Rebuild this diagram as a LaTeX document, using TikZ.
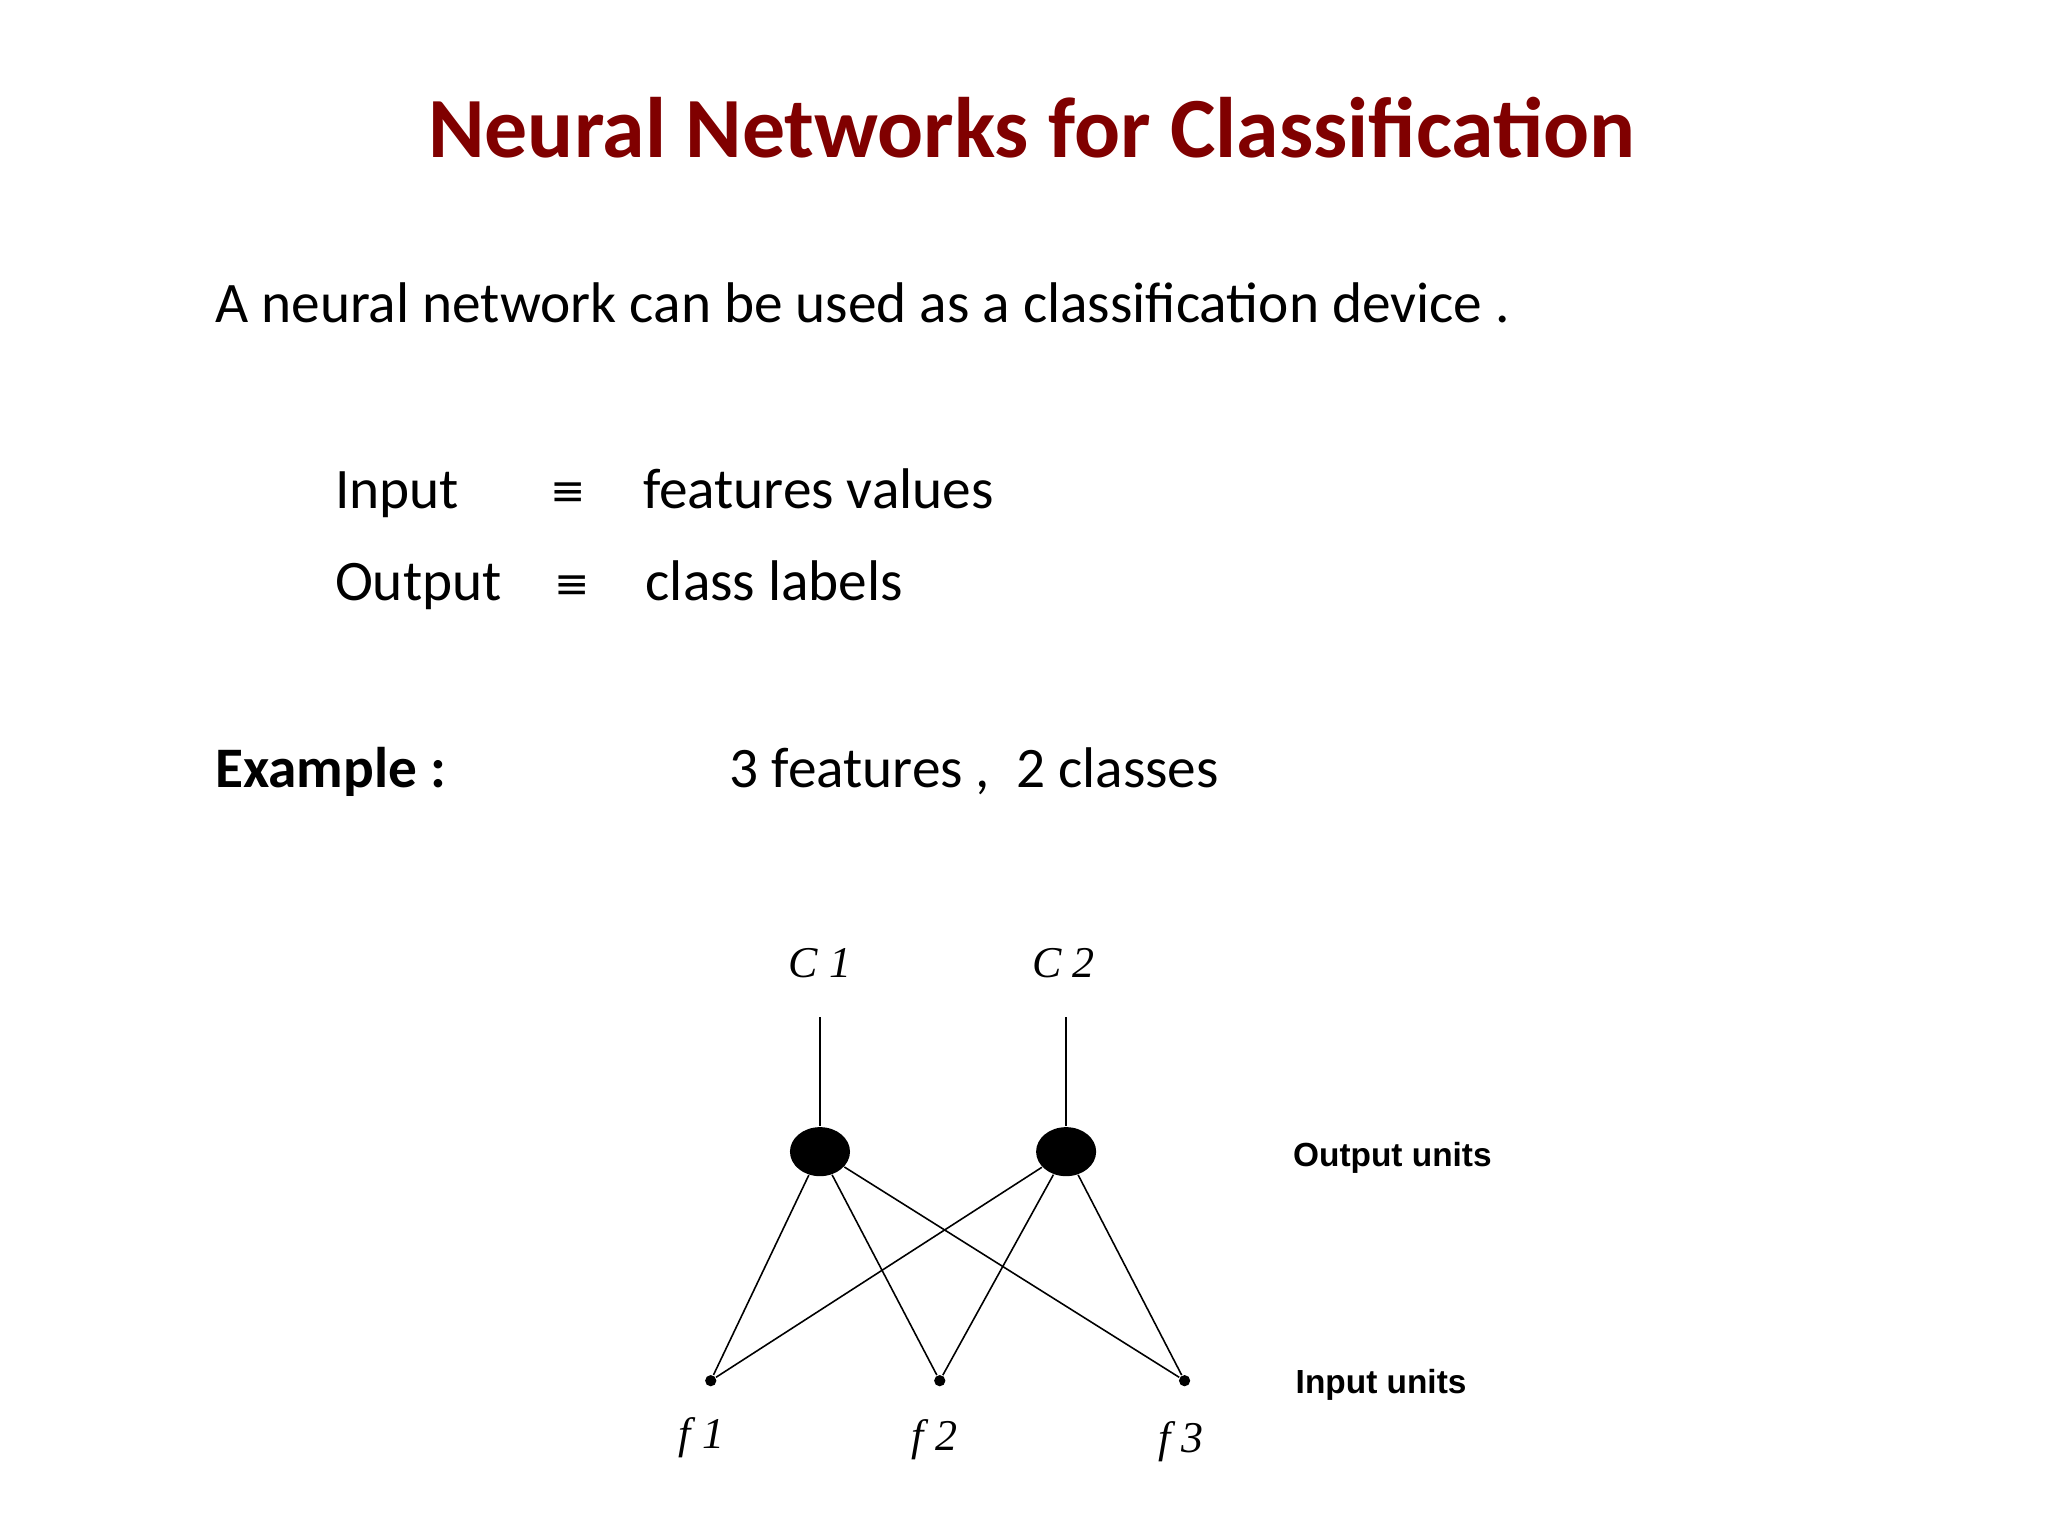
\documentclass[tikz,border=0pt]{standalone}
\usepackage{fontspec}
\usetikzlibrary{shapes.geometric}
\setmainfont{Carlito}
\newfontfamily\arialf{Liberation Sans}
\newfontfamily\timesf{Liberation Serif}
\newfontfamily\djf{DejaVu Sans}
\definecolor{titlered}{RGB}{128,0,0}
\begin{document}
\begin{tikzpicture}[x=0.01316cm,y=-0.01316cm,
  body/.style={anchor=base west,inner sep=0,font=\fontsize{16.3}{20}\selectfont},
  eqv/.style={anchor=base west,inner sep=0,font=\djf\fontsize{12}{14}\selectfont},
  outu/.style={ellipse,fill=black,minimum width=0.6cm,minimum height=0.49cm,inner sep=0},
  inu/.style={circle,fill=black,inner sep=0,minimum size=3.2pt},
  lbl/.style={font=\timesf\itshape\fontsize{12.5}{15}\selectfont},
  side/.style={font=\arialf\bfseries\fontsize{9.5}{12}\selectfont,anchor=west},
  edge/.style={line width=0.45pt}]
\useasboundingbox (0,0) rectangle (1556,1167);
\node[font=\bfseries\fontsize{24.4}{28}\selectfont,text=titlered] (title) at (784,97) {Neural Networks for Classification};
\node[body] (l1) at (163,245) {A neural network can be used as a classification device .};
\node[body] (in) at (254,386) {Input};
\node[eqv] (eq1) at (418,384) {≡};
\node[body] (fv) at (488,386) {features values};
\node[body] (out) at (254,456) {Output};
\node[eqv] (eq2) at (421,455) {≡};
\node[body] (cl) at (490,456) {class labels};
\node[body,font=\bfseries\fontsize{16.3}{20}\selectfont] (ex) at (163,598) {Example :};
\node[body] (fc) at (554,598) {3 features ,\ \ 2 classes};
% network
\node[outu] (o1) at (623,875) {};
\node[outu] (o2) at (810,875) {};
\coordinate (t1) at (623,773);
\coordinate (t2) at (810,773);
\node[inu] (f1) at (540,1049) {};
\node[inu] (f2) at (714,1049) {};
\node[inu] (f3) at (900,1049) {};
\draw[edge] (t1) -- (o1);
\draw[edge] (t2) -- (o2);
\foreach \o in {o1,o2}{\foreach \f in {f1,f2,f3}{\draw[edge] (\o) -- (\f);}}
\node[lbl] (c1) at (623,732) {C 1};
\node[lbl] (c2) at (808,732) {C 2};
\node[lbl] (lf1) at (533,1092) {f 1};
\node[lbl] (lf2) at (710,1094) {f 2};
\node[lbl] (lf3) at (897,1095) {f 3};
\node[side] (ou) at (973,880) {Output units};
\node[side] (iu) at (975,1052) {Input units};
\end{tikzpicture}
\end{document}
